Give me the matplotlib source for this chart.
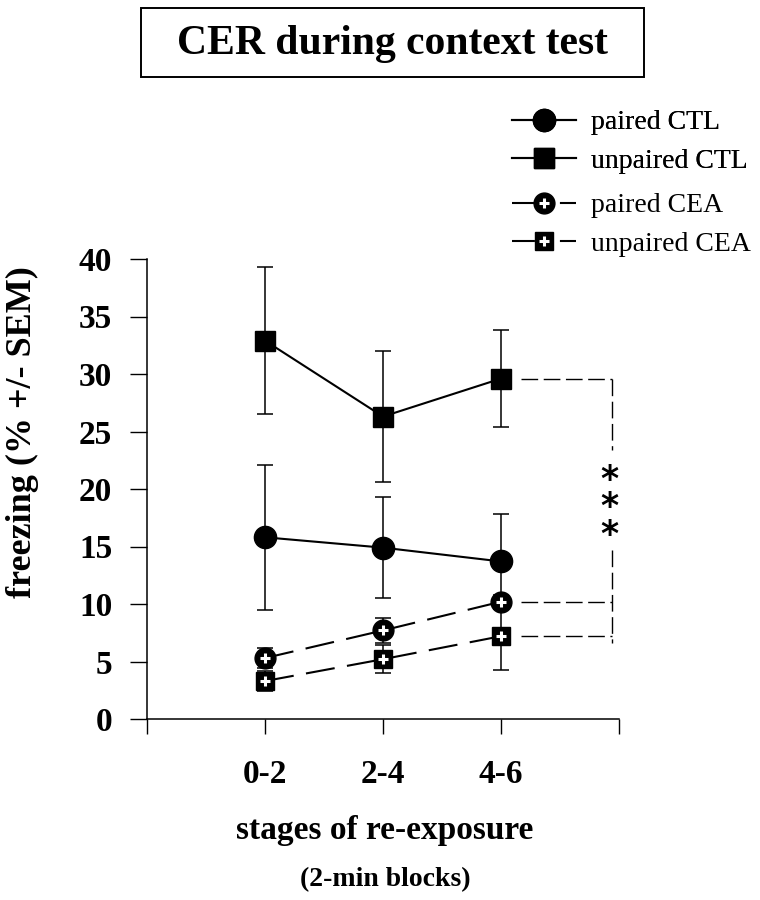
import matplotlib
matplotlib.use("Agg")
import matplotlib.pyplot as plt
from matplotlib.patches import Rectangle
from matplotlib.lines import Line2D
from matplotlib.legend_handler import HandlerTuple

# ---- data ----
stages = ["0-2", "2-4", "4-6"]
x_pos = [1, 2, 3]
paired_ctl = [15.8, 14.9, 13.7]
paired_ctl_err = [6.3, 4.4, 4.1]
unpaired_ctl = [32.9, 26.3, 29.6]
unpaired_ctl_err = [6.4, 5.7, 4.2]
paired_cea = [5.3, 7.7, 10.2]
paired_cea_err = [0.9, 1.1, 0.6]
unpaired_cea = [3.3, 5.2, 7.2]
unpaired_cea_err = [0.9, 1.2, 2.9]
y_ticks = [0, 5, 10, 15, 20, 25, 30, 35, 40]
x_tick_pos = [0, 1, 2, 3, 4]
x_tick_labels = [""] + stages + [""]

plt.rcParams['font.family'] = ['Liberation Serif', 'DejaVu Serif']

W, H = 760, 900
fig = plt.figure(figsize=(7.6, 9.0), dpi=100)
ax = fig.add_axes([147/W, 181/H, 472/W, 460/H])

dash = (0, (14, 6))
lw = 1.5
ecap = dict(capsize=6, elinewidth=1.1, capthick=1.1, ecolor='black')

# error bars
for y, e in [(unpaired_ctl, unpaired_ctl_err), (paired_ctl, paired_ctl_err),
             (paired_cea, paired_cea_err), (unpaired_cea, unpaired_cea_err)]:
    ax.errorbar(x_pos, y, yerr=e, fmt='none', zorder=2, **ecap)

h1, = ax.plot(x_pos, paired_ctl, '-', color='black', lw=lw, marker='o', ms=16,
              mfc='black', mec='black', zorder=4)
h2, = ax.plot(x_pos, unpaired_ctl, '-', color='black', lw=lw, marker='s', ms=14,
              mfc='black', mec='black', zorder=4)
h3, = ax.plot(x_pos, paired_cea, linestyle=dash, color='black', lw=lw, marker='o',
              ms=15, mfc='black', mec='black', zorder=4)
h4, = ax.plot(x_pos, unpaired_cea, linestyle=dash, color='black', lw=lw, marker='s',
              ms=13, mfc='black', mec='black', zorder=4)
p3, = ax.plot(x_pos, paired_cea, linestyle='none', marker='+', ms=7, mew=2.2,
              color='white', zorder=5)
p4, = ax.plot(x_pos, unpaired_cea, linestyle='none', marker='+', ms=7, mew=2.2,
              color='white', zorder=5)

# legend proxies for dashed series (solid left part, short dash right)
leg_dash = (0, (11, 12, 8, 10))
l3 = Line2D([], [], color='black', lw=lw, linestyle=leg_dash, marker='o', ms=15,
            mfc='black', mec='black')
l4 = Line2D([], [], color='black', lw=lw, linestyle=leg_dash, marker='s', ms=13,
            mfc='black', mec='black')
lp = Line2D([], [], linestyle='none', marker='+', ms=7, mew=2.2, color='white')

# significance bracket
bdash = (0, (12, 4))
bx0, bx1 = 3.17, 3.94
for yv in [unpaired_ctl[-1], paired_cea[-1], unpaired_cea[-1]]:
    ax.plot([bx0, bx1], [yv, yv], color='black', lw=1.0, linestyle=bdash, zorder=1)
ax.plot([bx1, bx1], [unpaired_ctl[-1], 23.4], color='black', lw=1.0,
        linestyle=bdash, zorder=1)
ax.plot([bx1, bx1], [14.7, 6.6], color='black', lw=1.0, linestyle=bdash, zorder=1)
ax.text(bx1 - 0.02, 18.4, "*\n*\n*", ha='center', va='center', fontsize=25,
        fontweight='bold', linespacing=0.75, family=['DejaVu Sans'])

ax.set_xlim(0, 4)
ax.set_ylim(0, 40)
ax.set_yticks(y_ticks)
ax.set_yticklabels([str(v) for v in y_ticks])
ax.set_xticks(x_tick_pos)
ax.set_xticklabels(x_tick_labels)
ax.spines['top'].set_visible(False)
ax.spines['right'].set_visible(False)
for s in ['left', 'bottom']:
    ax.spines[s].set_linewidth(1.1)
ax.tick_params(axis='y', length=12, width=1.0, pad=13, labelsize=24)
ax.tick_params(axis='x', length=11, width=1.0, pad=18, labelsize=24)
for lab in ax.get_xticklabels() + ax.get_yticklabels():
    lab.set_fontweight('bold')

# legends
leg_kw = dict(loc='upper left', frameon=False, fontsize=20, handlelength=2.3,
              handletextpad=0.55, labelspacing=0.47)
leg1 = fig.legend([h1, h2], ["paired CTL", "unpaired CTL"],
                  bbox_to_anchor=(487/W, 1 - 85/H), **leg_kw)
fig.legend([(l3, lp), (l4, lp)], ["paired CEA", "unpaired CEA"],
           bbox_to_anchor=(487/W, 1 - 168/H),
           handler_map={tuple: HandlerTuple(ndivide=1)}, **leg_kw)
fig.add_artist(leg1)

# title with box
fig.add_artist(Rectangle((141/W, 1 - 77/H), 503/W, 69/H, transform=fig.transFigure,
                         fill=False, ec='black', lw=1.4))
fig.text(392/W, 1 - 44/H, "CER during context test", ha='center', va='center',
         fontsize=30, fontweight='bold')

# axis labels
fig.text(22/W, 1 - 432/H, "freezing (% +/- SEM)", rotation=90, ha='center',
         va='center', fontsize=26, fontweight='bold')
fig.text(385/W, 1 - 831/H, "stages of re-exposure", ha='center', va='center',
         fontsize=24, fontweight='bold')
fig.text(385/W, 1 - 880/H, "(2-min blocks)", ha='center', va='center',
         fontsize=20, fontweight='bold')

fig.savefig("out.png", dpi=100, facecolor='white')
